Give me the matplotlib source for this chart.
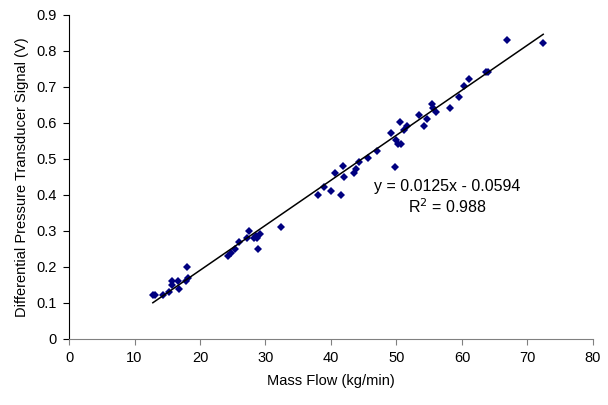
import matplotlib
matplotlib.use("Agg")
import matplotlib.pyplot as plt
import numpy as np

plt.rcParams['font.family'] = ['Liberation Sans', 'DejaVu Sans']

# mass flow (kg/min) and transducer signal (V)
mass_flow = [12.8, 13.2, 14.4, 15.3, 15.8, 15.8, 16.6, 16.8, 18.0, 18.2, 17.9,
             24.2, 24.7, 25.3, 26.0, 27.2, 27.5, 28.3, 28.7, 29.1, 28.8, 28.5, 32.4,
             38.0, 39.0, 40.0, 41.6, 40.6, 41.9, 42.0, 43.5, 43.8, 44.3, 45.7, 47.1,
             49.1, 49.7, 49.9, 50.3, 50.7, 50.6, 51.2, 51.6, 53.4, 54.2, 54.6,
             55.4, 55.5, 56.1, 58.1, 59.6, 60.3, 61.1, 63.6, 64.0, 66.8, 72.4]
signal = [0.121, 0.121, 0.121, 0.130, 0.151, 0.161, 0.161, 0.140, 0.200, 0.170, 0.161,
          0.230, 0.240, 0.251, 0.270, 0.281, 0.300, 0.280, 0.280, 0.291, 0.250, 0.286, 0.310,
          0.400, 0.421, 0.411, 0.400, 0.461, 0.480, 0.450, 0.461, 0.471, 0.491, 0.501, 0.521,
          0.571, 0.476, 0.551, 0.542, 0.542, 0.601, 0.581, 0.591, 0.621, 0.591, 0.610,
          0.651, 0.642, 0.631, 0.642, 0.672, 0.701, 0.721, 0.741, 0.741, 0.831, 0.822]

# linear trendline shown on the chart
slope = 0.0125
intercept = -0.0594
r_squared = 0.988

x_ticks = [0, 10, 20, 30, 40, 50, 60, 70, 80]
y_ticks = [0, 0.1, 0.2, 0.3, 0.4, 0.5, 0.6, 0.7, 0.8, 0.9]

fig = plt.figure(figsize=(6.08, 4.05), dpi=100)
ax = fig.add_axes([0.1135, 0.163, 0.8618, 0.8007])

x = np.array(mass_flow)
y = np.array(signal)
ax.plot(x, y, linestyle="none", marker="D", markersize=3.6,
        color="#000080", markeredgewidth=0)

fit_x = np.array([x.min(), x.max()])
ax.plot(fit_x, slope * fit_x + intercept, color="black", linewidth=1.1)

# trendline label, two centred lines
ax.text(0.7226, 0.456, "y = 0.0125x - 0.0594", transform=ax.transAxes,
        fontsize=11.5, ha="center", va="baseline")
ax.text(0.7226, 0.389, f"R$^2$ = {r_squared}", transform=ax.transAxes,
        fontsize=11.5, ha="center", va="baseline")

ax.set_xlim(0, 80)
ax.set_ylim(0, 0.9)
ax.set_xticks(x_ticks)
ax.set_yticks(y_ticks)
ax.set_xticklabels([str(t) for t in x_ticks])
ax.set_yticklabels(["0"] + [f"{t:.1f}" for t in y_ticks[1:]])
ax.tick_params(direction="out", length=4, width=0.8, labelsize=10.5, pad=5)

ax.spines["top"].set_visible(False)
ax.spines["right"].set_visible(False)
ax.spines["left"].set_color("black")
ax.spines["bottom"].set_color("#808080")
ax.tick_params(axis="x", colors="#808080", labelcolor="black")

ax.set_xlabel("Mass Flow (kg/min)", fontsize=10.5, labelpad=6)
ax.set_ylabel("Differential Pressure Transducer Signal (V)", fontsize=10.5, labelpad=5)

fig.savefig("out.png", dpi=100)
